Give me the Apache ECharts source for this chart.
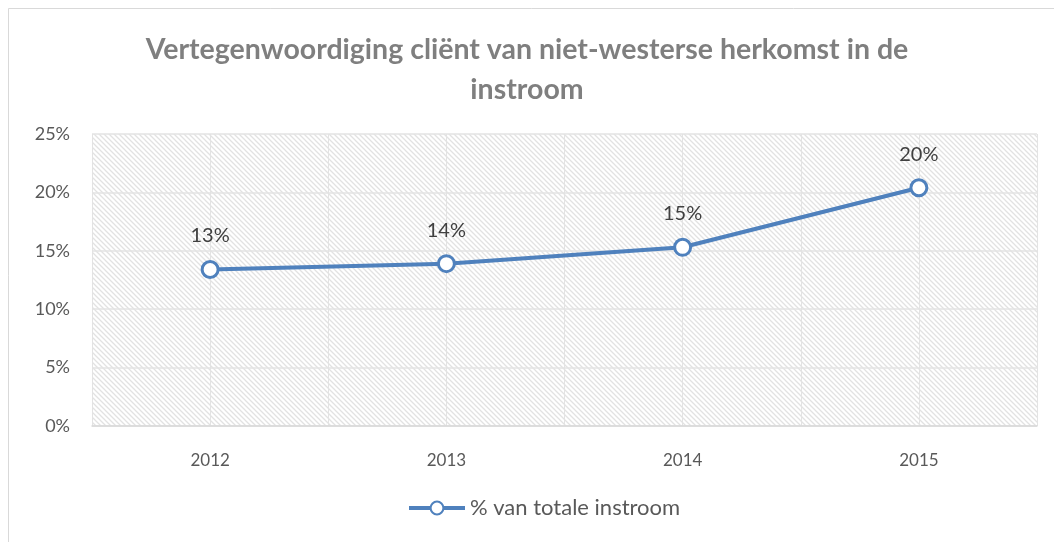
<!DOCTYPE html>
<html>
<head>
<meta charset="utf-8">
<script src="https://cdn.jsdelivr.net/npm/echarts@6/dist/echarts.min.js"></script>
<style>
  html, body { margin: 0; padding: 0; background: #fff; }
  #chart { width: 1054px; height: 542px; }
</style>
</head>
<body>
<div id="chart"></div>
<script>
// data
const years = ['2012', '2013', '2014', '2015'];
const share = [13.4, 13.9, 15.3, 20.4];
const seriesName = '% van totale instroom';
const titleText = 'Vertegenwoordiging cliënt van niet-westerse herkomst in de\ninstroom';

const blue = '#4f81bd';
const gridColor = '#e3e3e3';
const labelColor = '#595959';
const font = 'Lato, "Open Sans", sans-serif';

// hatch pattern for the plot area (wide downward diagonal)
const makeHatch = () => {
    const s = 5;
    const c = document.createElement('canvas');
    c.width = s; c.height = s;
    const ctx = c.getContext('2d');
    ctx.fillStyle = '#ffffff';
    ctx.fillRect(0, 0, s, s);
    ctx.strokeStyle = '#e2e2e2';
    ctx.lineWidth = 1.3;
    ctx.beginPath();
    ctx.moveTo(-1, -1); ctx.lineTo(s + 1, s + 1);
    ctx.moveTo(-1, s - 1); ctx.lineTo(1, s + 1);
    ctx.moveTo(s - 1, -1); ctx.lineTo(s + 1, 1);
    ctx.stroke();
    return c;
};

const myChart = echarts.init(document.getElementById('chart'));

const option = {
    backgroundColor: '#ffffff',
    textStyle: { fontFamily: font },
    graphic: [{
        type: 'rect',
        shape: { x: 8.5, y: 8.5, width: 1100, height: 600 },
        style: { fill: 'none', stroke: '#d9d9d9', lineWidth: 1 },
        silent: true
    }],
    title: {
        text: titleText,
        left: 'center',
        top: 25,
        textStyle: {
            color: '#7f7f7f',
            fontSize: 28.5,
            fontWeight: 'bold',
            fontFamily: font,
            lineHeight: 40
        }
    },
    legend: {
        bottom: 18,
        left: 402,
        itemWidth: 56,
        itemHeight: 16,
        itemGap: 6,
        lineStyle: { width: 4 },
        textStyle: { color: labelColor, fontSize: 22, fontFamily: font },
        data: [seriesName]
    },
    grid: {
        left: 92,
        right: 17,
        top: 134,
        bottom: 116,
        show: true,
        borderWidth: 0,
        backgroundColor: { image: makeHatch(), repeat: 'repeat' }
    },
    xAxis: [
        {
            type: 'category',
            data: years,
            boundaryGap: true,
            axisLine: { lineStyle: { color: '#d9d9d9', width: 1.5 } },
            axisTick: { show: false },
            splitLine: { show: false },
            axisLabel: { color: labelColor, fontSize: 17, margin: 26 }
        },
        {
            // half-category vertical gridlines
            type: 'value',
            min: 0,
            max: years.length * 2,
            interval: 1,
            position: 'top',
            axisLine: { show: false },
            axisTick: { show: false },
            axisLabel: { show: false },
            splitLine: { show: true, lineStyle: { color: gridColor, width: 1 } }
        }
    ],
    yAxis: {
        type: 'value',
        min: 0,
        max: 25,
        interval: 5,
        axisLine: { show: false },
        axisTick: { show: false },
        axisLabel: { color: labelColor, fontSize: 18, margin: 22, formatter: '{value}%' },
        splitLine: { lineStyle: { color: gridColor, width: 1.5 } }
    },
    series: [{
        name: seriesName,
        type: 'line',
        xAxisIndex: 0,
        data: share,
        symbol: 'circle',
        symbolSize: 16,
        lineStyle: { color: blue, width: 4 },
        itemStyle: { color: '#ffffff', borderColor: blue, borderWidth: 3 },
        label: {
            show: true,
            position: 'top',
            distance: 14,
            color: '#404040',
            fontSize: 20,
            fontFamily: font,
            formatter: (p) => Math.round(p.value) + '%'
        }
    }]
};

myChart.setOption(option);
</script>
</body>
</html>
